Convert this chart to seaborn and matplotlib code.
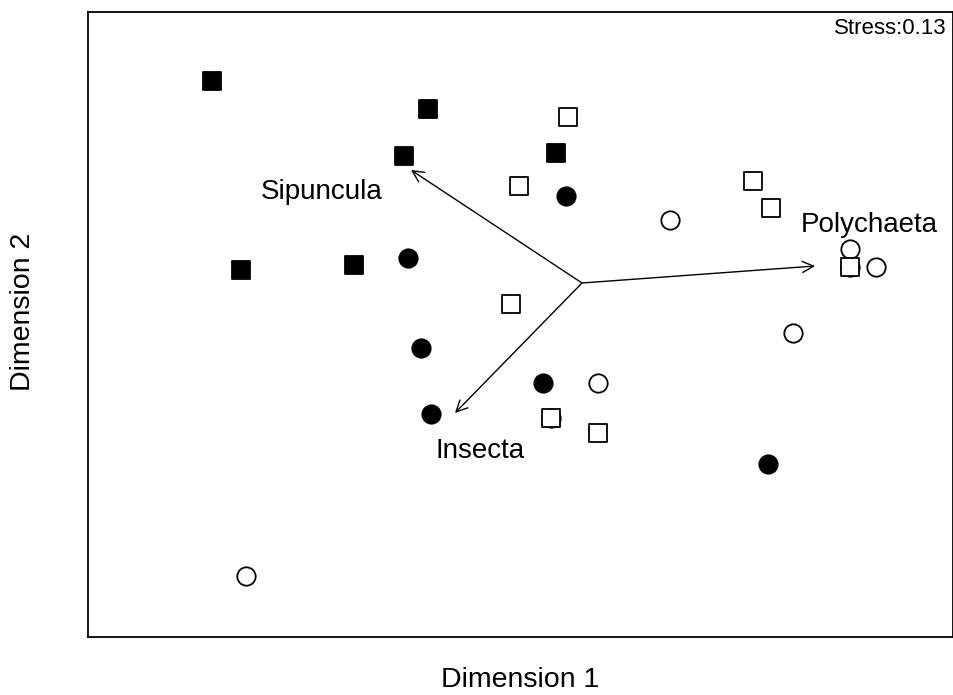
import matplotlib
matplotlib.use("Agg")
import matplotlib.pyplot as plt
import seaborn as sns
import pandas as pd

# NMDS site scores by group
fsq_x = [-1.85, -0.77, -0.89, -0.13, -1.705, -1.14]
fsq_y = [1.01, 0.87, 0.635, 0.65, 0.065, 0.09]
osq_x = [-0.07, -0.315, 0.855, 0.945, -0.355, 1.34, -0.155, 0.08]
osq_y = [0.83, 0.485, 0.51, 0.375, -0.105, 0.08, -0.675, -0.75]
fci_x = [-0.08, -0.87, -0.805, -0.195, -0.755, 0.93]
fci_y = [0.435, 0.125, -0.325, -0.5, -0.655, -0.905]
oci_x = [0.44, 1.34, 1.34, 1.47, 1.055, 0.08, -0.155, -1.68]
oci_y = [0.315, 0.17, 0.08, 0.08, -0.25, -0.5, -0.675, -1.465]

# Taxon vectors
vec_names = ["Sipuncula", "Polychaeta", "Insecta"]
vec_x = [-0.855, 1.165, -0.635]
vec_y = [0.565, 0.085, -0.65]
lab_x = [-1.3, 1.435, -0.51]
lab_y = [0.455, 0.29, -0.84]
stress = 0.13

sns.set_style("white")
plt.rcParams['font.family'] = ['Liberation Sans', 'DejaVu Sans']
plt.rcParams['text.color'] = 'black'
plt.rcParams['axes.labelcolor'] = 'black'

fig = plt.figure(figsize=(9.54, 6.95), dpi=100)
ax = fig.add_axes([0.0922, 0.0835, 0.9068, 0.8992])

groups = [
    ("oci", oci_x, oci_y, "o", "white", 175),
    ("fci", fci_x, fci_y, "o", "black", 175),
    ("osq", osq_x, osq_y, "s", "white", 155),
    ("fsq", fsq_x, fsq_y, "s", "black", 155),
]
for name, xs, ys, m, fc, s in groups:
    df = pd.DataFrame({"x": xs, "y": ys})
    sns.scatterplot(data=df, x="x", y="y", marker=m, s=s, color=fc,
                    edgecolor="black", linewidth=1.3, ax=ax, zorder=3)

for n, vx, vy, lx, ly in zip(vec_names, vec_x, vec_y, lab_x, lab_y):
    ax.annotate("", xy=(vx, vy), xytext=(0, 0),
                arrowprops=dict(arrowstyle="->", color="black", lw=1.0,
                                shrinkA=0, shrinkB=0, mutation_scale=20))
    ax.text(lx, ly, n, ha="center", va="center", fontsize=20, color="black")

ax.text(0.992, 0.973, f"Stress:{stress}", transform=ax.transAxes,
        ha="right", va="center", fontsize=16, color="black")

ax.set_xlim(-2.47, 1.855)
ax.set_ylim(-1.77, 1.355)
ax.set_xticks([])
ax.set_yticks([])
ax.set_xlabel("")
ax.set_ylabel("")
fig.text(520 / 954, 1 - 680 / 695, "Dimension 1", ha="center", va="center",
         fontsize=20.5, color="black")
fig.text(23 / 954, 1 - 312 / 695, "Dimension 2", ha="center", va="center",
         rotation=90, fontsize=20.5, color="black")
for sp in ax.spines.values():
    sp.set_visible(True)
    sp.set_color("black")
    sp.set_linewidth(1.3)

fig.savefig("out.png", dpi=100)
